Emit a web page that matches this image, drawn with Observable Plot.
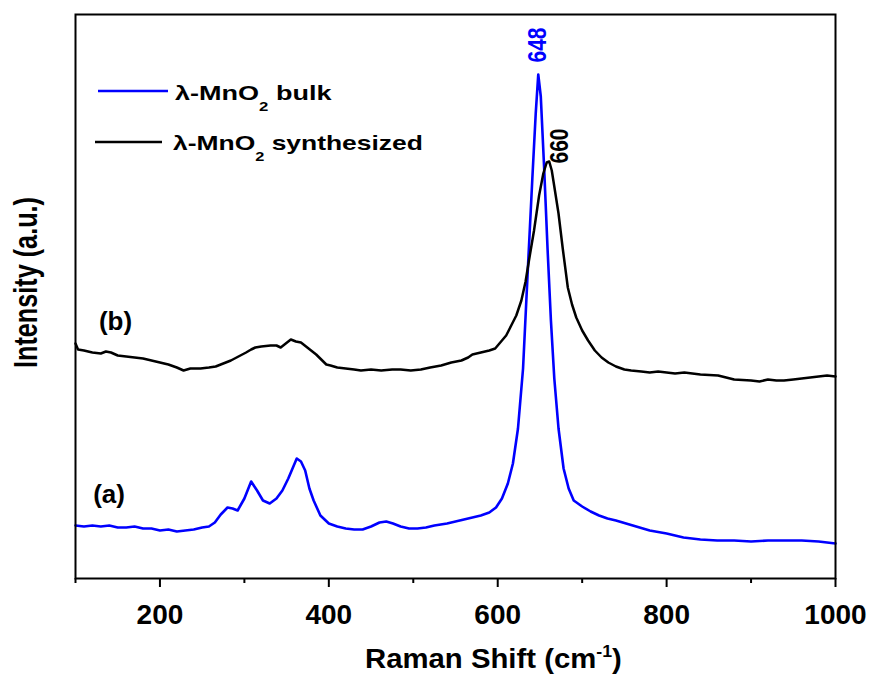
<!DOCTYPE html>
<html>
<head>
<meta charset="utf-8">
<script src="https://cdn.jsdelivr.net/npm/d3@7"></script>
<script src="https://cdn.jsdelivr.net/npm/@observablehq/plot@0.6"></script>
<style>
  html, body { margin: 0; padding: 0; background: #fff; }
  #chart { width: 870px; height: 674px; }
</style>
</head>
<body>
<div id="chart"></div>
<script>
// ---- data (Raman shift in cm^-1, intensity in arbitrary units) ----
const bulkShift = [100,110,120,130,140,150,160,170,180,190,200,210,220,230,240,250,258,265,272,280,286,292,300,308,315,322,330,338,345,352,357,362,367,372,377,382,390,400,410,420,430,440,450,460,468,476,485,495,505,515,525,540,550,560,570,580,590,598,605,612,618,624,630,636,641,645,648,651,655,659,663,667,672,678,684,690,700,710,720,730,740,760,780,800,820,840,860,880,900,920,940,960,980,1000];
const bulkIntensity = [53,52,53,52,53,51,51,52,50,50,48,49,47,48,49,51,52,56,64,71,70,68,80,97,88,78,75,80,88,100,110,120,117,108,90,78,63,55,52,50,49,49,52,56,57,55,52,50,50,51,53,55,57,59,61,63,66,71,80,95,115,150,210,315,400,465,504,482,410,330,258,200,150,110,90,78,72,67,63,60,58,53,48,45,41,39,38,38,37,38,38,38,37,35];

const synthShift = [100,103,110,120,130,136,142,150,160,170,180,190,200,210,220,228,236,248,258,266,275,284,293,302,308,313,320,331,338,343,349,355,361,367,373,379,385,391,397,402,410,420,430,438,450,462,475,485,497,509,520,533,545,557,565,570,580,590,597,604,610,616,622,628,633,637,643,649,654,658,661,664,667,672,677,683,688,693,700,707,715,723,731,740,750,758,770,780,790,800,810,821,840,861,880,900,910,920,930,939,950,960,970,980,990,1000];
const synthIntensity = [235,229,228,226,225,227,226,223,222,221,220,218,216,214,211,208,210,210,211,212,215,218,222,226,229,231,232,233,233,231,235,239,237,236,232,228,224,219,214,213,211,210,209,208,209,208,209,209,208,209,211,213,216,218,221,224,226,228,230,237,243,253,263,278,297,318,348,383,405,416,417,408,392,365,330,291,274,261,248,238,228,221,216,212,209,208,207,206,207,206,205,206,204,203,199,198,197,199,198,198,199,200,201,202,203,202];

const seriesNames = ["λ-MnO₂ bulk", "λ-MnO₂ synthesized"];
const seriesColors = ["#0000ff", "#000000"];

const majorTicks = [200, 400, 600, 800, 1000];
const minorTicks = [100, 300, 500, 700, 900];

const peakShift = [648, 660];
const peakIntensity = [504, 417];
const peakText = ["648", "660"];

const curveTagText = ["(a)", "(b)"];
const curveTagShift = [139.7, 147.4];
const curveTagIntensity = [84, 257];

// ---- tables built from the arrays ----
const bulk = bulkShift.map((s, i) => ({shift: s, intensity: bulkIntensity[i]}));
const synth = synthShift.map((s, i) => ({shift: s, intensity: synthIntensity[i]}));
const peaks = peakShift.map((s, i) => ({shift: s, intensity: peakIntensity[i], label: peakText[i], color: seriesColors[i]}));
const tags = curveTagText.map((t, i) => ({shift: curveTagShift[i], intensity: curveTagIntensity[i], label: t}));

const FONT = "'Liberation Sans', Arial, Helvetica, sans-serif";

const plot = Plot.plot({
  width: 870,
  height: 674,
  marginLeft: 75,
  marginRight: 35,
  marginTop: 14,
  marginBottom: 96,
  style: {fontFamily: FONT, background: "#fff", color: "#000", overflow: "visible"},
  x: {domain: [100, 1000]},
  y: {domain: [0, 564], axis: null},
  marks: [
    Plot.line(bulk, {x: "shift", y: "intensity", stroke: seriesColors[0], strokeWidth: 2.6}),
    Plot.line(synth, {x: "shift", y: "intensity", stroke: seriesColors[1], strokeWidth: 2.5}),
    Plot.frame({stroke: "#000", strokeWidth: 2}),
    Plot.axisX({ticks: majorTicks, tickSize: 9, tickPadding: 17, strokeWidth: 2, fontSize: 28, fontWeight: "bold", tickFormat: d => String(d), label: null}),
    Plot.axisX({ticks: minorTicks, tickSize: 5, strokeWidth: 2, tickFormat: () => "", label: null}),
    Plot.text([peaks[0]], {x: "shift", y: "intensity", text: "label", fill: "color", rotate: -90, dy: -29.5, fontSize: 21, fontWeight: "bold", className: "peak-label"}),
    Plot.text([peaks[1]], {x: "shift", y: "intensity", text: "label", fill: "color", rotate: -90, dx: 12, dy: -15.5, fontSize: 21, fontWeight: "bold", className: "peak-label"}),
    Plot.text(tags, {x: "shift", y: "intensity", text: "label", fill: "#000", fontSize: 26, fontWeight: "bold"})
  ]
});

document.getElementById("chart").appendChild(plot);

const svg = d3.select(plot);
svg.selectAll("text").attr("font-weight", "bold");

// slight glyph stretch on rotated peak labels
svg.selectAll(".peak-label text").each(function() {
  const t = d3.select(this);
  t.attr("transform", (t.attr("transform") || "") + " scale(1,1.2)");
});

const g = svg.append("g").attr("font-family", FONT).attr("font-weight", "bold").attr("fill", "#000");

// legend
const legendRows = [
  {x1: 98, x2: 168, ly: 91, tx: 175, ty: 100, w: 157},
  {x1: 95, x2: 162, ly: 142, tx: 173, ty: 150, w: 250}
];
legendRows.forEach((r, i) => {
  g.append("line").attr("x1", r.x1).attr("x2", r.x2).attr("y1", r.ly).attr("y2", r.ly)
    .attr("stroke", seriesColors[i]).attr("stroke-width", 2.6);
  const [head, tail] = seriesNames[i].split("₂");
  const t = g.append("text").attr("font-size", 21).attr("text-anchor", "start")
    .attr("transform", `translate(${r.tx},${r.ty})`);
  t.append("tspan").text(head);
  t.append("tspan").attr("font-size", 13).attr("dy", 11).text("2");
  t.append("tspan").attr("dy", -11).text(tail);
  const bw = t.node().getBBox().width;
  t.attr("transform", `translate(${r.tx},${r.ty}) scale(${r.w / bw},1)`);
});

// x axis title
{
  const t = g.append("text").attr("font-size", 28).attr("text-anchor", "start")
    .attr("transform", "translate(365,668)");
  t.append("tspan").text("Raman Shift (cm");
  t.append("tspan").attr("font-size", 17).attr("dy", -11).text("-1");
  t.append("tspan").attr("dy", 11).text(")");
  const bw = t.node().getBBox().width;
  t.attr("transform", `translate(365,668) scale(${257 / bw},1)`);
}

// y axis title
{
  const t = g.append("text").attr("font-size", 25).attr("text-anchor", "middle")
    .attr("transform", "translate(37,282.5) rotate(-90)").text("Intensity (a.u.)");
  const bw = t.node().getBBox().width;
  t.attr("transform", `translate(37,282.5) rotate(-90) scale(${171 / bw},${24 / (0.716 * 25)})`);
}
</script>
</body>
</html>
